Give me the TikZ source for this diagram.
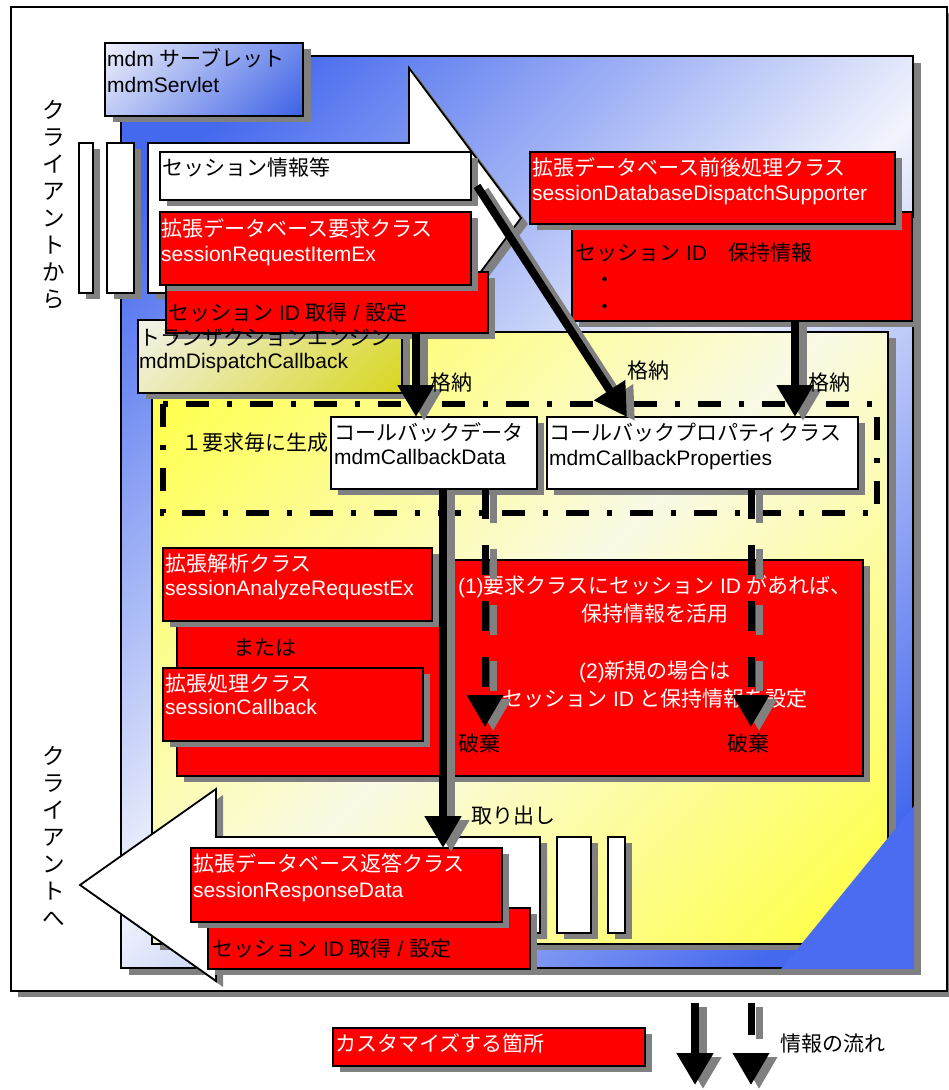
\documentclass[tikz,border=0pt]{standalone}
\usepackage{fontspec}
\setmainfont{Liberation Sans}
\newfontfamily\jp{Noto Sans CJK JP}
\usetikzlibrary{arrows.meta,shadows,calc}
\definecolor{shgray}{HTML}{808080}
\definecolor{bdeep}{HTML}{4468EE}
\definecolor{blite}{HTML}{F2F4FC}
\definecolor{bcorner}{HTML}{4A6CF0}
\definecolor{ydeep}{HTML}{FFFF50}
\definecolor{ylite}{HTML}{FAFAE6}
\definecolor{ldeep}{HTML}{3D62E6}
\definecolor{llite}{HTML}{EEF0FA}
\definecolor{edeep}{HTML}{D8D620}
\definecolor{elite}{HTML}{F2F2EC}
\pgfdeclarehorizontalshading{bluemir}{100bp}{color(0bp)=(bdeep); color(21bp)=(bdeep); color(50bp)=(blite); color(79bp)=(bdeep); color(100bp)=(bdeep)}
\pgfdeclarehorizontalshading{yelmir}{100bp}{color(0bp)=(ydeep); color(19bp)=(ydeep); color(50bp)=(ylite); color(81bp)=(ydeep); color(100bp)=(ydeep)}
\pgfdeclarehorizontalshading{lblblue}{100bp}{color(0bp)=(llite); color(15bp)=(llite); color(85bp)=(ldeep); color(100bp)=(ldeep)}
\pgfdeclarehorizontalshading{lblyel}{100bp}{color(0bp)=(elite); color(15bp)=(elite); color(85bp)=(edeep); color(100bp)=(edeep)}
\newcommand\fsz{\fontsize{21pt}{26pt}\selectfont}
\newcommand\mkbox[6]{\node[#2, anchor=north west, inner sep=0pt, outer sep=0pt, minimum width={#5pt-#3pt}, minimum height={#6pt-#4pt}] (#1) at (#3,#4) {};}
\newcommand\flowline[3]{%
  \draw[flowarrow, shgray, #1, transform canvas={shift={(8pt,-4pt)}}] #2 -- #3;
  \draw[flowarrow, black, #1] #2 -- #3;}
\tikzset{
  shd/.style={drop shadow={shadow xshift=7pt, shadow yshift=-6pt, fill=shgray, opacity=1}},
  bordered/.style={draw=black, line width=1.8pt},
  redbox/.style={bordered, fill=red, shd},
  whitebox/.style={bordered, fill=white, shd},
  tx/.style={inner sep=0pt, anchor=base west, font=\fsz, text=black},
  wtx/.style={tx, text=white},
  vtext/.style={inner sep=0pt, align=center, font={\fontsize{22.5pt}{27pt}\selectfont\jp}},
  flowarrow/.style={line width=8pt, -{Triangle[length=32pt,width=35pt]}},
  dashflow/.style={line width=7pt, dash pattern=on 30pt off 26pt},
  dashdotline/.style={line width=6pt, dash pattern=on 23pt off 18pt on 5pt off 18pt},
}
\begin{document}
\begin{tikzpicture}[x=1pt,y=-1pt]
\useasboundingbox (0,0) rectangle (949,1090);
% outer frame
\mkbox{frame}{whitebox}{11}{7}{947}{991}
% vertical labels
\node[vtext] (cfrom) at (54,205) {ク\\ラ\\イ\\ア\\ン\\ト\\か\\ら};
\node[vtext] (cto) at (54,836) {ク\\ラ\\イ\\ア\\ン\\ト\\へ};
% servlet
\mkbox{servlet}{bordered, shade, shading=bluemir, shading angle=-45, drop shadow={shadow xshift=8pt, shadow yshift=-7pt, fill=shgray, opacity=1}}{121}{56}{913}{968}
\mkbox{slabel}{bordered, shade, shading=lblblue, shading angle=-45, drop shadow={shadow xshift=8pt, shadow yshift=-6pt, fill=shgray, opacity=1}}{105}{43}{303}{116}
\node[tx] (sl1) at (107,66) {mdm {\jp サーブレット}};
\node[tx] (sl2) at (107,92) {mdmServlet};
% client bars
\mkbox{bar1}{whitebox}{79}{143}{93}{293}
\mkbox{bar2}{whitebox}{107}{143}{134}{293}
% input arrow
\filldraw[fill=white, bordered, shd] (148,143) -- (409,143) -- (409,68) -- (521,218) -- (409,368) -- (409,293) -- (148,293) -- cycle;
\mkbox{sinfo}{whitebox}{160}{152}{471}{200}
\node[tx] (si1) at (162,175) {\jp セッション情報等};
% right red boxes
\mkbox{hold}{redbox}{572}{212}{912}{321}
\node[tx] (ho1) at (575,260) {{\jp セッション} ID\hspace{21pt}{\jp 保持情報}};
\node[tx, anchor=base] (hd1) at (605,287) {\jp ・};
\node[tx, anchor=base] (hd2) at (605,314) {\jp ・};
\mkbox{dbsup}{redbox}{530}{152}{895}{224}
\node[wtx] (ds1) at (532,175) {\jp 拡張データベース前後処理クラス};
\node[wtx] (ds2) at (532,200) {sessionDatabaseDispatchSupporter};
% engine
\mkbox{engine}{bordered, shade, shading=yelmir, shading angle=-45, drop shadow={shadow xshift=8pt, shadow yshift=-6pt, fill=shgray, opacity=1}}{152}{332}{888}{944}
\fill[bcorner] (914,806) -- (914,969) -- (781,969) -- cycle;
\mkbox{elabel}{bordered, shade, shading=lblyel, shading angle=-45, drop shadow={shadow xshift=8pt, shadow yshift=-6pt, fill=shgray, opacity=1}}{138}{320}{402}{393}
\mkbox{sid1}{redbox}{166}{272}{488}{333}
\node[tx] (sd1) at (168,320) {{\jp セッション} ID {\jp 取得} / {\jp 設定}};
\node[tx] (el1) at (139,345) {\jp トランザクションエンジン};
\node[tx] (el2) at (139,368) {mdmDispatchCallback};
\mkbox{req}{redbox}{160}{212}{471}{285}
\node[wtx] (rq1) at (161,236) {\jp 拡張データベース要求クラス};
\node[wtx] (rq2) at (161,261) {sessionRequestItemEx};
% per-request region
\draw[dashdotline] (163,404) rectangle (877,513);
\node[tx] (gen) at (181,450) {\jp １要求毎に生成};
\mkbox{cbd}{whitebox}{331}{417}{537}{489}
\node[tx] (cd1) at (334,440) {\jp コールバックデータ};
\node[tx] (cd2) at (334,464) {mdmCallbackData};
\mkbox{cbp}{whitebox}{547}{417}{858}{489}
\node[tx] (cp1) at (549,440) {\jp コールバックプロパティクラス};
\node[tx] (cp2) at (549,465) {mdmCallbackProperties};
% customization area
\mkbox{bigred}{redbox}{177}{560}{863}{776}
\mkbox{anal}{redbox}{163}{548}{432}{621}
\node[wtx] (an1) at (165,571) {\jp 拡張解析クラス};
\node[wtx] (an2) at (165,595) {sessionAnalyzeRequestEx};
\node[tx] (mata) at (233,655) {\jp または};
\mkbox{cb}{redbox}{163}{668}{423}{741}
\node[wtx] (cb1) at (165,691) {\jp 拡張処理クラス};
\node[wtx] (cb2) at (165,714) {sessionCallback};
\node[wtx, anchor=base] (r1) at (655,593) {(1){\jp 要求クラスにセッション} ID {\jp があれば、}};
\node[wtx, anchor=base] (r2) at (655,621) {\jp 保持情報を活用};
\node[wtx, anchor=base] (r3) at (655,678) {(2){\jp 新規の場合は}};
\node[wtx, anchor=base] (r4) at (655,706) {{\jp セッション} ID {\jp と保持情報を設定}};
% output arrow
\filldraw[fill=white, bordered, shd] (540,837) -- (216,837) -- (216,789) -- (80,885) -- (216,981) -- (216,933) -- (540,933) -- cycle;
\mkbox{bar3}{whitebox}{557}{837}{591}{933}
\mkbox{bar4}{whitebox}{608}{837}{625}{933}
\mkbox{sid2}{redbox}{208}{908}{530}{969}
\node[tx] (sd2t) at (212,956) {{\jp セッション} ID {\jp 取得} / {\jp 設定}};
\mkbox{resp}{redbox}{191}{848}{502}{922}
\node[wtx] (rs1) at (193,871) {\jp 拡張データベース返答クラス};
\node[wtx] (rs2) at (193,897) {sessionResponseData};
% connector coordinates
\coordinate (xa) at (416,0);
\coordinate (xb) at (627,0);
\coordinate (xc) at (795,0);
\coordinate (xd) at (443,0);
\coordinate (xe) at (485,0);
\coordinate (xf) at (751,0);
\coordinate (bs) at ($(sinfo.east)+(6,10)$);
\coordinate (e1end) at (485,727);
\coordinate (f1end) at (751,727);
% connectors
\flowline{}{(sid1.south -| xa)}{(cbd.north -| xa)}
\flowline{}{(bs)}{(cbp.north -| xb)}
\flowline{}{(hold.south -| xc)}{(cbp.north -| xc)}
\flowline{dashflow}{(cbd.south -| xe)}{(e1end)}
\flowline{dashflow}{(cbp.south -| xf)}{(f1end)}
\flowline{}{(cbd.south -| xd)}{(resp.north -| xd)}
\node[tx] (k1) at (430,390) {\jp 格納};
\node[tx] (k2) at (627,378) {\jp 格納};
\node[tx] (k3) at (808,390) {\jp 格納};
\node[tx] (hk1) at (458,751) {\jp 破棄};
\node[tx] (hk2) at (727,751) {\jp 破棄};
\node[tx] (tori) at (471,823) {\jp 取り出し};
% legend
\mkbox{legend}{redbox}{333}{1028}{645}{1066}
\node[wtx] (lg1) at (335,1051) {\jp カスタマイズする箇所};
\coordinate (ls1) at (695,1003);
\coordinate (le1) at (695,1085);
\coordinate (ls2) at (751,1003);
\coordinate (le2) at (751,1085);
\flowline{}{(ls1)}{(le1)}
\flowline{line width=7pt, dash pattern=on 32pt off 40pt}{(ls2)}{(le2)}
\node[tx] (lg2) at (780,1051) {\jp 情報の流れ};
\end{tikzpicture}
\end{document}
